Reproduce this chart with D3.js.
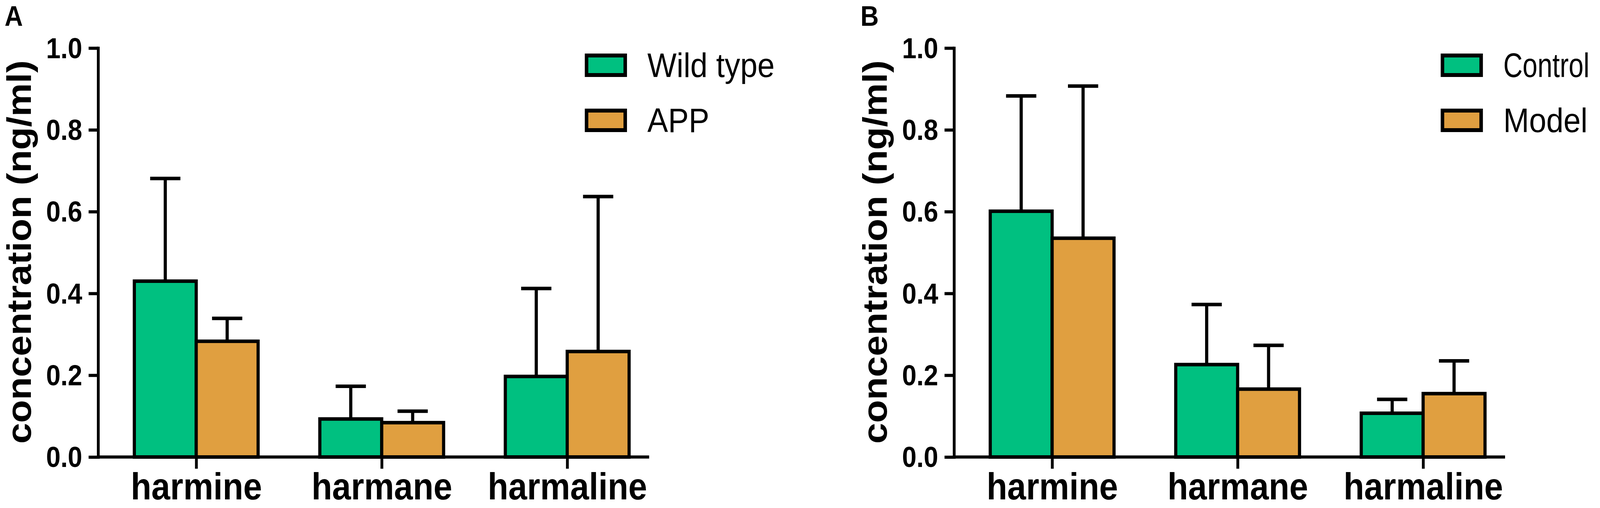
<!DOCTYPE html>
<html>
<head>
<meta charset="utf-8">
<script src="https://cdn.jsdelivr.net/npm/d3@7"></script>
<style>
  html, body { margin: 0; padding: 0; width: 100%; height: 100%; overflow: hidden; background: #fff; }
  #chart { width: 100vw; height: 100vh; }
  svg { display: block; }
  text { font-family: Arial, "Liberation Sans", sans-serif; }
</style>
</head>
<body>
<div id="chart"></div>
<script>
// ---------------------------------------------------------
// DATA
// ---------------------------------------------------------

var categories = ["harmine", "harmane", "harmaline"];
var yTicks = [0, 0.2, 0.4, 0.6, 0.8, 1.0];

// panel A
var seriesNamesA = ["Wild type", "APP"];
var wildTypeMean = [0.43, 0.093, 0.197];
var wildTypeSem = [0.251, 0.080, 0.215];
var appMean = [0.283, 0.084, 0.258];
var appSem = [0.056, 0.028, 0.379];

// panel B
var seriesNamesB = ["Control", "Model"];
var controlMean = [0.601, 0.226, 0.107];
var controlSem = [0.282, 0.147, 0.034];
var modelMean = [0.535, 0.166, 0.155];
var modelSem = [0.372, 0.107, 0.080];

var colors = ["#00c080", "#e09f40"];

// ---------------------------------------------------------
// SET UP
// ---------------------------------------------------------

var svgWidth = 4550;
var svgHeight = 1300;

// the window may be narrower than asked for, so stretch the
// 4550x1300 drawing over the whole window
var svg = d3.select("#chart")
  .append("svg")
  .attr("viewBox", `0 0 ${svgWidth} ${svgHeight}`)
  .attr("preserveAspectRatio", "none")
  .attr("width", "100%")
  .attr("height", "100%");

var barWidth = 176;
var capHalf = 43;

// draw one panel, shifted by dx
function drawPanel(dx, letter, names, means, sems) {
  var g = svg.append("g")
    .attr("transform", `translate(${dx}, 0)`);

  var axisLeftX = 279;
  var axisRightX = 1846;

  var y = d3.scaleLinear()
    .domain([0, 1])
    .range([1169.5, 123]);

  var x = d3.scalePoint()
    .domain(categories)
    .range([558, 1613]);

  // panel letter
  g.append("text")
    .attr("x", 13)
    .attr("y", 66)
    .attr("font-size", 72)
    .attr("font-weight", "bold")
    .text(letter);

  // one row per bar
  var rows = [];
  categories.forEach(function(c, i) {
    means.forEach(function(m, s) {
      rows.push({cat: c, s: s, mean: m[i], sem: sems[s][i]});
    });
  });

  var barX = d => x(d.cat) + (d.s === 0 ? -barWidth : 0);
  var barMid = d => barX(d) + barWidth / 2;

  // error bars (drawn under the bars)
  g.selectAll(".err")
    .data(rows)
    .enter()
    .append("line")
    .attr("x1", barMid)
    .attr("x2", barMid)
    .attr("y1", d => y(d.mean))
    .attr("y2", d => y(d.mean + d.sem))
    .attr("stroke", "#000")
    .attr("stroke-width", 9);

  g.selectAll(".cap")
    .data(rows)
    .enter()
    .append("line")
    .attr("x1", d => barMid(d) - capHalf)
    .attr("x2", d => barMid(d) + capHalf)
    .attr("y1", d => y(d.mean + d.sem))
    .attr("y2", d => y(d.mean + d.sem))
    .attr("stroke", "#000")
    .attr("stroke-width", 9);

  g.selectAll(".bar")
    .data(rows)
    .enter()
    .append("rect")
    .attr("x", barX)
    .attr("y", d => y(d.mean))
    .attr("width", barWidth)
    .attr("height", d => y(0) - y(d.mean))
    .attr("fill", d => colors[d.s])
    .attr("stroke", "#000")
    .attr("stroke-width", 9);

  // x axis line
  g.append("line")
    .attr("x1", axisLeftX)
    .attr("x2", axisRightX)
    .attr("y1", y(0))
    .attr("y2", y(0))
    .attr("stroke", "#000")
    .attr("stroke-width", 8);

  var bottomAxis = d3.axisBottom(x)
    .tickSize(30)
    .tickSizeOuter(0)
    .tickPadding(10);

  var xAxis = g.append("g")
    .attr("transform", `translate(0, ${y(0)})`)
    .call(bottomAxis);
  xAxis.select(".domain").remove();
  xAxis.selectAll("line").attr("stroke-width", 8);
  xAxis.selectAll("text")
    .attr("font-size", 96)
    .attr("font-weight", "bold")
    .attr("font-family", "Arial, 'Liberation Sans', sans-serif")
    .attr("dy", "0.71em")
    .attr("fill", "#000");

  // y axis
  var leftAxis = d3.axisLeft(y)
    .tickValues(yTicks)
    .tickFormat(d3.format(".1f"))
    .tickSize(27)
    .tickSizeOuter(0)
    .tickPadding(18);

  var yAxis = g.append("g")
    .attr("transform", `translate(${axisLeftX}, 0)`)
    .call(leftAxis);
  yAxis.select(".domain")
    .attr("stroke-width", 8)
    .attr("stroke-linecap", "square");
  yAxis.selectAll("line").attr("stroke-width", 8);
  yAxis.selectAll("text")
    .attr("font-size", 74)
    .attr("font-weight", "bold")
    .attr("font-family", "Arial, 'Liberation Sans', sans-serif")
    .attr("dy", "0.34em")
    .attr("fill", "#000");

  // y axis title
  g.append("text")
    .attr("transform", "rotate(-90)")
    .attr("x", -645)
    .attr("y", 88)
    .attr("text-anchor", "middle")
    .attr("font-size", 96)
    .attr("font-weight", "bold")
    .text("concentration (ng/ml)");

  // legend
  var legend = g.selectAll(".legend")
    .data(names)
    .enter()
    .append("g")
    .attr("transform", (d, i) => `translate(1668, ${142 + i * 141})`);

  legend.append("rect")
    .attr("width", 110)
    .attr("height", 50)
    .attr("fill", (d, i) => colors[i])
    .attr("stroke", "#000")
    .attr("stroke-width", 10);

  legend.append("text")
    .attr("x", 173)
    .attr("y", 55)
    .attr("font-size", 88)
    .text(d => d)
    .each(function() {
      // keep the label inside the picture
      var room = svgWidth - 30 - (dx + 1668 + 173);
      if (this.getComputedTextLength() > room) {
        d3.select(this)
          .attr("textLength", room)
          .attr("lengthAdjust", "spacingAndGlyphs");
      }
    });
}

drawPanel(0, "A", seriesNamesA, [wildTypeMean, appMean], [wildTypeSem, appSem]);
drawPanel(2434, "B", seriesNamesB, [controlMean, modelMean], [controlSem, modelSem]);
</script>
</body>
</html>
